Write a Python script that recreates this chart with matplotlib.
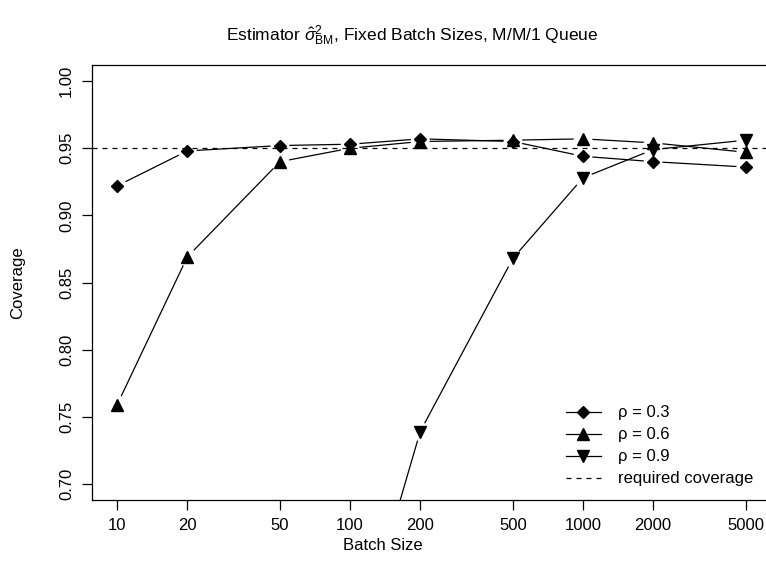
import numpy as np
import matplotlib
matplotlib.use("Agg")
import matplotlib.pyplot as plt
from matplotlib.lines import Line2D

plt.rcParams['font.family'] = ['Liberation Sans', 'DejaVu Sans']
plt.rcParams['mathtext.fontset'] = 'custom'
plt.rcParams['mathtext.rm'] = 'Liberation Sans'
plt.rcParams['mathtext.it'] = 'Liberation Sans:italic'
plt.rcParams['mathtext.bf'] = 'Liberation Sans:bold'

# batch sizes and coverage
batch = [10, 20, 50, 100, 200, 500, 1000, 2000, 5000]
cov_03 = [0.922, 0.948, 0.952, 0.953, 0.957, 0.955, 0.944, 0.940, 0.936]
cov_06 = [0.759, 0.869, 0.940, 0.950, 0.955, 0.956, 0.957, 0.954, 0.947]
cov_09 = [0.05, 0.12, 0.33, 0.56, 0.739, 0.868, 0.928, 0.949, 0.956]
required = 0.95
labels = ["ρ = 0.3", "ρ = 0.6", "ρ = 0.9"]
markers = ["D", "^", "v"]
msizes = [6, 8, 8]
xticks = [10, 20, 50, 100, 200, 500, 1000, 2000, 5000]
yticks = [0.70, 0.75, 0.80, 0.85, 0.90, 0.95, 1.00]

fig = plt.figure(figsize=(7.66, 5.85), dpi=100)
ax = fig.add_axes([92 / 766, 1 - 500 / 585, (771 - 92) / 766, (500 - 65) / 585])
ax.set_xscale("log")
lx0, lx1 = np.log10(10), np.log10(5000)
d = (lx1 - lx0) * 0.04
ax.set_xlim(10 ** (lx0 - d), 10 ** (lx1 + d))
ax.set_ylim(0.688, 1.012)


def gapped(x, y, gap=10):
    # R type="b": line segments stop short of the points
    pts = ax.transData.transform(np.column_stack([x, y]))
    inv = ax.transData.inverted()
    for i in range(len(pts) - 1):
        p, q = pts[i], pts[i + 1]
        v = q - p
        L = np.hypot(*v)
        if L <= 2 * gap:
            continue
        u = v / L
        a = inv.transform(p + u * gap)
        b = inv.transform(q - u * gap)
        ax.plot([a[0], b[0]], [a[1], b[1]], color="black", lw=0.9)


series = [cov_03, cov_06, cov_09]
for s, m, ms in zip(series, markers, msizes):
    gapped(batch, s)
    ax.plot(batch, s, linestyle="none", marker=m, ms=ms, color="black")

ax.axhline(required, color="black", lw=0.9, ls=(0, (4, 4)))

ax.set_xticks(xticks)
ax.set_xticklabels([str(t) for t in xticks])
ax.xaxis.set_minor_locator(matplotlib.ticker.NullLocator())
ax.set_yticks(yticks)
ax.set_yticklabels(["%.2f" % t for t in yticks], rotation=90, va="center")
ax.tick_params(labelsize=12, length=7, width=0.9, pad=6)
for sp in ax.spines.values():
    sp.set_linewidth(0.9)

fig.text(412 / 766, 1 - 36 / 585, r"Estimator $\hat{\sigma}^2_{\mathrm{BM}}$, Fixed Batch Sizes, M/M/1 Queue",
         ha="center", va="center", fontsize=12.5)
fig.text(0.5, 1 - 545 / 585, "Batch Size", ha="center", va="center", fontsize=12)
fig.text(18 / 766, 1 - 283 / 585, "Coverage", ha="center", va="center", rotation=90, fontsize=12)

handles = [Line2D([], [], color="black", lw=0.9, marker=m, ms=ms) for m, ms in zip(markers, msizes)]
handles.append(Line2D([], [], color="black", lw=0.9, ls=(0, (4, 4))))
fig.legend(handles, labels + ["required coverage"], loc="lower right",
           bbox_to_anchor=(0.998, 1 - 498 / 585), frameon=False, fontsize=12,
           handlelength=2.1, handletextpad=1.0, labelspacing=0.42, borderpad=0.2)

fig.savefig("out.png", dpi=100)
